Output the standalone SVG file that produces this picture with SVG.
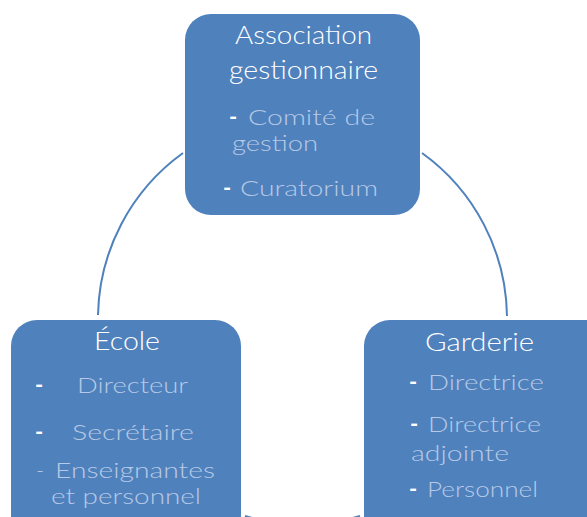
<svg xmlns="http://www.w3.org/2000/svg" width="587" height="517" viewBox="0 0 587 517">
<style>
.box{fill:#4f81bd;}
.conn{fill:none;stroke:#4f81bd;stroke-width:2;}
text{font-family:Lato,"Open Sans","Liberation Sans",sans-serif;font-weight:300;}
.t{fill:#ffffff;font-size:25px;}
.i{fill:#b7c9e6;font-size:22px;}
.d{fill:#ffffff;font-weight:700;}
</style>
<rect width="587" height="517" fill="#ffffff"/>
<g id="connectors">
<path class="conn" d="M183,153 A204.5,204.5 0 0 0 98,315"/>
<path class="conn" d="M422,153 A204.5,204.5 0 0 1 507,316"/>
<path class="conn" d="M360,516 A204.5,204.5 0 0 1 245,516"/>
</g>
<g id="association">
<rect class="box" x="185" y="14" width="235" height="201" rx="26"/>
<text class="t" x="235" y="44" textLength="137" lengthAdjust="spacingAndGlyphs">Association</text>
<text class="t" x="229" y="79" textLength="149" lengthAdjust="spacingAndGlyphs">gestionnaire</text>
<text class="i d" x="229" y="125">-</text>
<text class="i" x="248" y="125" textLength="127" lengthAdjust="spacingAndGlyphs">Comité de</text>
<text class="i" x="232" y="151" textLength="86" lengthAdjust="spacingAndGlyphs">gestion</text>
<text class="i d" x="223" y="196">-</text>
<text class="i" x="240" y="196" textLength="138" lengthAdjust="spacingAndGlyphs">Curatorium</text>
</g>
<g id="ecole">
<rect class="box" x="11" y="320" width="230" height="230" rx="26"/>
<text class="t" x="94" y="350" textLength="66" lengthAdjust="spacingAndGlyphs">École</text>
<text class="i d" x="35" y="393">-</text>
<text class="i" x="77" y="393" textLength="111" lengthAdjust="spacingAndGlyphs">Directeur</text>
<text class="i d" x="35" y="440">-</text>
<text class="i" x="72" y="440" textLength="122" lengthAdjust="spacingAndGlyphs">Secrétaire</text>
<text class="i" x="36" y="478">-</text>
<text class="i" x="55" y="478" textLength="160" lengthAdjust="spacingAndGlyphs">Enseignantes</text>
<text class="i" x="51" y="504" textLength="150" lengthAdjust="spacingAndGlyphs">et personnel</text>
</g>
<g id="garderie">
<rect class="box" x="364" y="320" width="250" height="230" rx="26"/>
<text class="t" x="425" y="351" textLength="109" lengthAdjust="spacingAndGlyphs">Garderie</text>
<text class="i d" x="409" y="390">-</text>
<text class="i" x="428" y="390" textLength="116" lengthAdjust="spacingAndGlyphs">Directrice</text>
<text class="i d" x="410" y="432">-</text>
<text class="i" x="428" y="432" textLength="113" lengthAdjust="spacingAndGlyphs">Directrice</text>
<text class="i" x="411" y="461" textLength="98" lengthAdjust="spacingAndGlyphs">adjointe</text>
<text class="i d" x="409" y="497">-</text>
<text class="i" x="427" y="497" textLength="111" lengthAdjust="spacingAndGlyphs">Personnel</text>
</g>
</svg>
